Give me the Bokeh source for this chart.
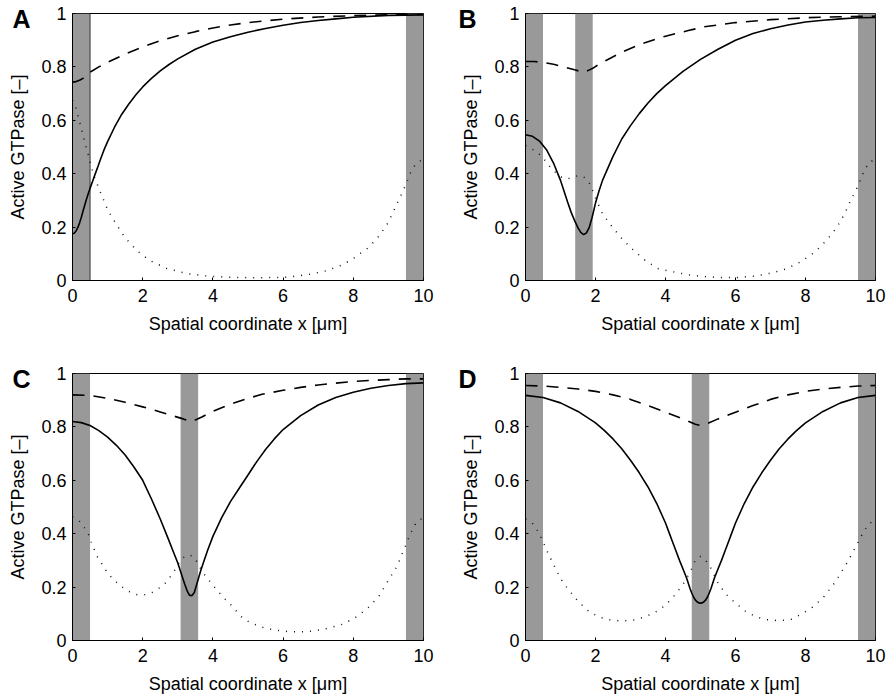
from bokeh.plotting import figure
from bokeh.layouts import column, row
from bokeh.models import FixedTicker, CustomJSTickFormatter, Label, Range1d
from bokeh.embed import file_html
from bokeh.resources import INLINE

# ---------------- data ----------------
x_ticks = [0, 2, 4, 6, 8, 10]
y_ticks = [0, 0.2, 0.4, 0.6, 0.8, 1]
x_label = "Spatial coordinate x [μm]"
y_label = "Active GTPase [–]"
panel_letters = ["A", "B", "C", "D"]

# membrane (gray) regions per panel
bars_A_left = [0.0, 9.5]
bars_A_right = [0.5, 10.0]
bars_B_left = [0.0, 1.42, 9.5]
bars_B_right = [0.5, 1.92, 10.0]
bars_C_left = [0.0, 3.08, 9.5]
bars_C_right = [0.5, 3.58, 10.0]
bars_D_left = [0.0, 4.75, 9.5]
bars_D_right = [0.5, 5.25, 10.0]

# Panel A
A_solid_x = [0, 0.05, 0.1, 0.15, 0.2, 0.25, 0.3, 0.35, 0.4, 0.45, 0.5, 0.6, 0.7, 0.8, 0.9, 1.0, 1.2,
             1.4, 1.6, 1.8, 2.0, 2.25, 2.5, 2.75, 3.0, 3.5, 4.0, 4.5, 5.0, 5.5, 6.0, 6.5, 7.0, 7.5,
             8.0, 9.0, 10]
A_solid_y = [0.175, 0.177, 0.185, 0.198, 0.215, 0.236, 0.26, 0.283, 0.305, 0.326, 0.345, 0.382, 0.418,
             0.455, 0.49, 0.52, 0.575, 0.622, 0.66, 0.695, 0.725, 0.757, 0.785, 0.809, 0.83, 0.866,
             0.893, 0.913, 0.93, 0.944, 0.956, 0.966, 0.974, 0.98, 0.986, 0.993, 0.995]
A_dash_x = [0, 0.1, 0.2, 0.3, 0.4, 0.5, 0.75, 1, 1.5, 2, 2.5, 3, 3.5, 4, 4.5, 5, 6, 7, 8, 9, 10]
A_dash_y = [0.743, 0.745, 0.75, 0.757, 0.767, 0.78, 0.8, 0.817, 0.848, 0.875, 0.898, 0.917, 0.932,
            0.946, 0.957, 0.966, 0.979, 0.987, 0.992, 0.995, 0.997]
A_dot_x = [0, 0.1, 0.2, 0.3, 0.4, 0.5, 0.6, 0.75, 1.0, 1.25, 1.5, 1.85, 2.2, 2.7, 3.3, 3.9, 4.5, 5.2,
           6.1, 6.8, 7.25, 7.7, 8.05, 8.45, 8.75, 9.0, 9.2, 9.4, 9.5, 9.65, 9.8, 10]
A_dot_y = [0.675, 0.645, 0.595, 0.545, 0.495, 0.445, 0.395, 0.345, 0.265, 0.21, 0.16, 0.11, 0.075,
           0.044, 0.025, 0.016, 0.012, 0.01, 0.012, 0.024, 0.037, 0.059, 0.087, 0.125, 0.169, 0.218,
           0.275, 0.331, 0.36, 0.41, 0.44, 0.455]

# Panel B
B_solid_x = [0, 0.2, 0.4, 0.6, 0.8, 1.0, 1.1, 1.2, 1.3, 1.4, 1.5, 1.58, 1.66, 1.74, 1.82, 1.9, 2.0,
             2.1, 2.2, 2.35, 2.5, 2.75, 3.0, 3.25, 3.5, 3.75, 4.0, 4.5, 5.0, 5.5, 6.0, 6.5, 7.0, 7.5,
             8.0, 8.5, 9.0, 9.5, 10]
B_solid_y = [0.546, 0.54, 0.522, 0.49, 0.44, 0.375, 0.335, 0.295, 0.257, 0.225, 0.197, 0.18, 0.172,
             0.178, 0.198, 0.235, 0.29, 0.335, 0.375, 0.42, 0.465, 0.53, 0.58, 0.625, 0.665, 0.7, 0.73,
             0.783, 0.828, 0.866, 0.9, 0.925, 0.943, 0.957, 0.968, 0.975, 0.98, 0.984, 0.985]
B_dash_x = [0, 0.25, 0.5, 0.8, 1.1, 1.4, 1.66, 1.8, 1.95, 2.1, 2.3, 2.75, 3.3, 4.0, 4.65, 5.1, 6.0,
            7.0, 8.0, 9.0, 10]
B_dash_y = [0.82, 0.82, 0.817, 0.81, 0.8, 0.789, 0.78, 0.787, 0.797, 0.81, 0.824, 0.855, 0.886, 0.915,
            0.936, 0.95, 0.966, 0.977, 0.984, 0.988, 0.99]
B_dot_x = [0, 0.26, 0.4, 0.52, 0.67, 0.81, 1.0, 1.2, 1.4, 1.55, 1.7, 1.85, 1.92, 2.0, 2.2, 2.48, 2.76,
           3.04, 3.42, 3.8, 4.27, 4.75, 5.2, 5.6, 6.0, 6.55, 7.03, 7.46, 7.88, 8.26, 8.6, 8.88, 9.12,
           9.31, 9.42, 9.53, 9.6, 9.7, 9.81, 10]
B_dot_y = [0.506, 0.487, 0.472, 0.456, 0.43, 0.41, 0.388, 0.38, 0.39, 0.393, 0.385, 0.36, 0.336, 0.308,
           0.25, 0.2, 0.156, 0.119, 0.075, 0.044, 0.031, 0.019, 0.014, 0.011, 0.011, 0.016, 0.028,
           0.044, 0.071, 0.106, 0.15, 0.196, 0.25, 0.306, 0.333, 0.362, 0.39, 0.416, 0.441, 0.455]

# Panel C
C_solid_x = [0, 0.25, 0.5, 0.75, 1.0, 1.25, 1.5, 1.75, 2.0, 2.25, 2.5, 2.7, 2.85, 3.0, 3.1, 3.2, 3.27,
             3.33, 3.4, 3.47, 3.55, 3.65, 3.75, 3.85, 4.0, 4.25, 4.5, 4.75, 5.0, 5.25, 5.5, 5.75, 6.0,
             6.5, 7.0, 7.5, 8.0, 8.5, 9.0, 9.5, 10]
C_solid_y = [0.82, 0.816, 0.805, 0.786, 0.762, 0.731, 0.695, 0.65, 0.6, 0.53, 0.455, 0.39, 0.34, 0.29,
             0.25, 0.21, 0.185, 0.17, 0.168, 0.18, 0.215, 0.26, 0.3, 0.338, 0.39, 0.46, 0.52, 0.57,
             0.62, 0.67, 0.715, 0.755, 0.79, 0.842, 0.882, 0.91, 0.93, 0.945, 0.955, 0.962, 0.965]
C_dash_x = [0, 0.5, 1.0, 1.5, 2.0, 2.5, 2.9, 3.15, 3.35, 3.5, 3.7, 3.9, 4.4, 4.9, 5.4, 6.0, 6.5, 7.0,
            7.5, 8.0, 8.5, 9.0, 9.5, 10]
C_dash_y = [0.92, 0.918, 0.907, 0.892, 0.875, 0.856, 0.84, 0.83, 0.82, 0.826, 0.838, 0.853, 0.88,
            0.903, 0.922, 0.937, 0.948, 0.957, 0.964, 0.97, 0.974, 0.977, 0.98, 0.98]
C_dot_x = [0, 0.18, 0.34, 0.47, 0.53, 0.7, 0.85, 1.0, 1.2, 1.4, 1.6, 1.8, 2.0, 2.2, 2.4, 2.6, 2.75,
           2.9, 3.0, 3.12, 3.27, 3.41, 3.5, 3.6, 3.7, 3.85, 4.0, 4.25, 4.5, 4.8, 5.05, 5.5, 6.0, 6.4,
           6.85, 7.25, 7.7, 8.1, 8.45, 8.75, 9.0, 9.25, 9.42, 9.5, 9.6, 9.7, 9.8, 10]
C_dot_y = [0.463, 0.45, 0.422, 0.394, 0.37, 0.315, 0.285, 0.252, 0.224, 0.202, 0.184, 0.172, 0.17,
           0.175, 0.19, 0.208, 0.232, 0.26, 0.284, 0.307, 0.32, 0.317, 0.305, 0.282, 0.257, 0.232,
           0.207, 0.168, 0.135, 0.09, 0.067, 0.045, 0.035, 0.032, 0.035, 0.045, 0.061, 0.089, 0.126,
           0.17, 0.226, 0.279, 0.334, 0.359, 0.392, 0.419, 0.444, 0.46]

# Panel D
D_solid_x = [0, 0.5, 1.0, 1.5, 2.0, 2.25, 2.5, 2.75, 3.0, 3.25, 3.5, 3.75, 4.0, 4.1, 4.2, 4.3, 4.4,
             4.5, 4.6, 4.7, 4.75, 4.8, 4.85, 4.9, 4.95, 5.0, 5.05, 5.1, 5.15, 5.2, 5.25, 5.3, 5.4, 5.5,
             5.6, 5.7, 5.8, 5.9, 6.0, 6.25, 6.5, 6.75, 7.0, 7.25, 7.5, 7.75, 8.0, 8.5, 9.0, 9.5, 10]
D_solid_y = [0.918, 0.91, 0.89, 0.858, 0.815, 0.787, 0.755, 0.718, 0.675, 0.628, 0.575, 0.513, 0.44,
             0.405, 0.37, 0.335, 0.3, 0.268, 0.235, 0.195, 0.178, 0.163, 0.152, 0.145, 0.141, 0.14,
             0.141, 0.145, 0.152, 0.163, 0.178, 0.195, 0.235, 0.268, 0.3, 0.335, 0.37, 0.405, 0.44,
             0.513, 0.575, 0.628, 0.675, 0.718, 0.755, 0.787, 0.815, 0.858, 0.89, 0.91, 0.918]
D_dash_x = [0, 0.5, 1.0, 1.5, 2.0, 2.5, 3.0, 3.5, 4.0, 4.5, 4.85, 5.0, 5.15, 5.5, 6.0, 6.5, 7.0, 7.5,
            8.0, 8.5, 9.0, 9.5, 10]
D_dash_y = [0.955, 0.953, 0.948, 0.942, 0.933, 0.92, 0.903, 0.88, 0.855, 0.83, 0.81, 0.805, 0.81, 0.83,
            0.855, 0.88, 0.903, 0.92, 0.933, 0.942, 0.948, 0.953, 0.955]
D_dot_x = [0, 0.2, 0.35, 0.5, 0.65, 0.8, 1.0, 1.2, 1.5, 1.8, 2.1, 2.4, 2.75, 3.1, 3.4, 3.7, 4.0, 4.25,
           4.5, 4.7, 4.85, 5.0, 5.15, 5.3, 5.5, 5.75, 6.0, 6.3, 6.6, 6.9, 7.25, 7.6, 7.9, 8.2, 8.5,
           8.8, 9.0, 9.2, 9.35, 9.5, 9.65, 9.8, 10]
D_dot_y = [0.455, 0.438, 0.41, 0.37, 0.325, 0.285, 0.232, 0.195, 0.147, 0.11, 0.088, 0.078, 0.073,
           0.077, 0.088, 0.105, 0.132, 0.168, 0.21, 0.255, 0.3, 0.315, 0.3, 0.27, 0.215, 0.17, 0.14,
           0.108, 0.088, 0.078, 0.074, 0.08, 0.1, 0.125, 0.16, 0.21, 0.25, 0.294, 0.33, 0.368, 0.405,
           0.435, 0.455]

# ---------------- styling ----------------
FONT = "Liberation Sans"
FRAME_W, FRAME_H = 351, 267
BAR_COLOR = "#999999"


def make_panel(letter, bl, br, sx, sy, dx, dy, ox, oy, left, right, top, bottom, edge=False):
    p = figure(width=left + FRAME_W + right, height=top + FRAME_H + bottom,
               x_range=Range1d(0, 10), y_range=Range1d(0, 1),
               output_backend="svg", toolbar_location=None,
               min_border_left=left, min_border_right=right,
               min_border_top=top, min_border_bottom=bottom)
    p.background_fill_color = "white"
    p.border_fill_color = "white"
    p.outline_line_color = "black"
    p.outline_line_width = 1
    p.xgrid.visible = False
    p.ygrid.visible = False

    p.quad(left=bl, right=br, bottom=0, top=1, fill_color=BAR_COLOR, line_color=None)
    if edge:
        p.segment(x0=[br[0]], y0=[0], x1=[br[0]], y1=[1], line_color="#333333", line_width=1)

    p.line(ox, oy, line_color="#111111", line_width=1.5, line_dash="1 7")
    p.line(dx, dy, line_color="black", line_width=1.6, line_dash="12 9")
    p.line(sx, sy, line_color="black", line_width=1.6)

    for ax in (p.xaxis[0], p.yaxis[0]):
        ax.axis_line_color = "black"
        ax.major_tick_line_color = "black"
        ax.major_tick_in = 3
        ax.major_tick_out = 0
        ax.minor_tick_line_color = None
        ax.major_label_text_font = FONT
        ax.major_label_text_font_size = "18px"
        ax.major_label_text_color = "black"
        ax.axis_label_text_font = FONT
        ax.axis_label_text_font_size = "18px"
        ax.axis_label_text_font_style = "normal"
        ax.axis_label_text_color = "black"

    p.xaxis.ticker = FixedTicker(ticks=x_ticks)
    p.yaxis.ticker = FixedTicker(ticks=y_ticks)
    p.yaxis.formatter = CustomJSTickFormatter(code="return tick.toString();")
    p.xaxis.formatter = CustomJSTickFormatter(code="return tick.toString();")
    p.xaxis.axis_label = x_label
    p.yaxis.axis_label = y_label
    p.xaxis.major_label_standoff = 8
    p.yaxis.major_label_standoff = 6
    p.xaxis.axis_label_standoff = 9
    p.yaxis.axis_label_standoff = 10

    # panel letter, in canvas coordinates; kept in the (otherwise empty) right side panel so that
    # it is not clipped to the frame and does not widen the left border
    p.add_layout(Label(x=12, y=top + 5, x_units="canvas", y_units="canvas", text=letter,
                       text_font=FONT, text_font_size="25px", text_font_style="bold",
                       text_color="black", text_baseline="alphabetic"), "right")
    return p


pA = make_panel(panel_letters[0], bars_A_left, bars_A_right, A_solid_x, A_solid_y, A_dash_x, A_dash_y,
                A_dot_x, A_dot_y, 72, 23, 13, 69, edge=True)
pB = make_panel(panel_letters[1], bars_B_left, bars_B_right, B_solid_x, B_solid_y, B_dash_x, B_dash_y,
                B_dot_x, B_dot_y, 79, 17, 13, 69)
pC = make_panel(panel_letters[2], bars_C_left, bars_C_right, C_solid_x, C_solid_y, C_dash_x, C_dash_y,
                C_dot_x, C_dot_y, 72, 23, 24, 59)
pD = make_panel(panel_letters[3], bars_D_left, bars_D_right, D_solid_x, D_solid_y, D_dash_x, D_dash_y,
                D_dot_x, D_dot_y, 79, 17, 24, 59)

layout = column(row(pA, pB), row(pC, pD))
open("out.html", "w").write(file_html(layout, INLINE))
